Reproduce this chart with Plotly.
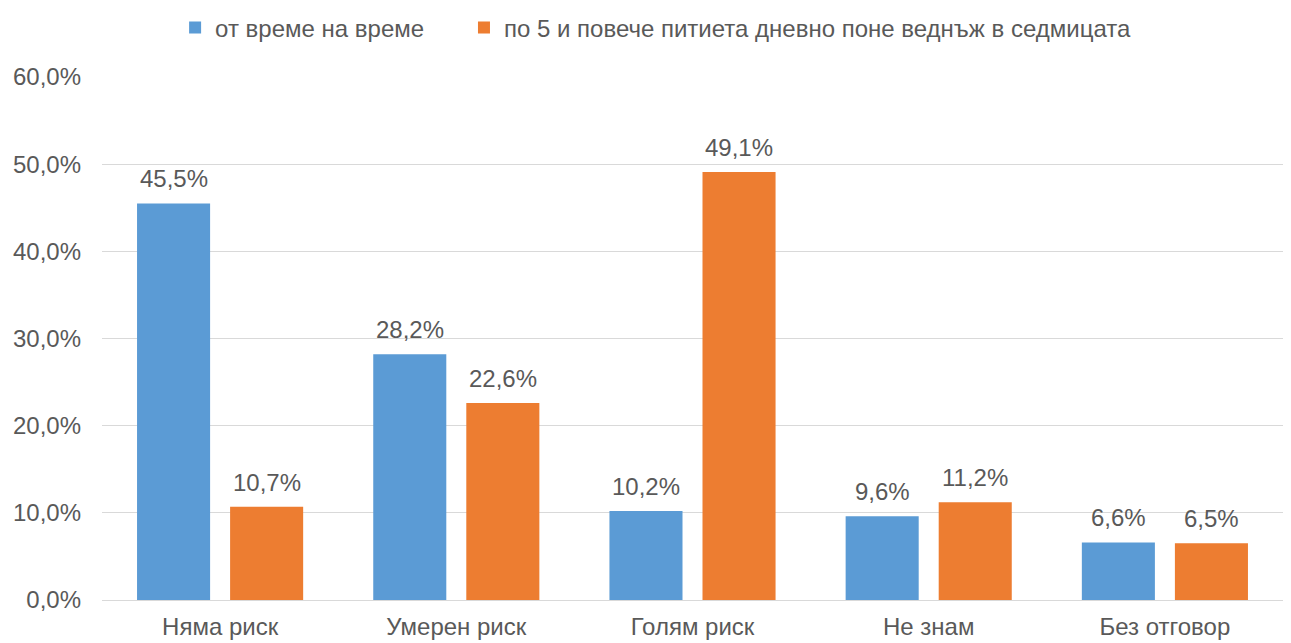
import plotly.graph_objects as go

# Survey answers: perceived risk of drinking, by drinking pattern
categories = ["Няма риск", "Умерен риск", "Голям риск", "Не знам", "Без отговор"]
series_names = ["от време на време", "по 5 и повече питиета дневно поне веднъж в седмицата"]
occasional = [45.5, 28.2, 10.2, 9.6, 6.6]
heavy_weekly = [10.7, 22.6, 49.1, 11.2, 6.5]
y_ticks = [0, 10, 20, 30, 40, 50, 60]

colors = ["#5B9BD5", "#ED7D31"]
text_color = "#595959"
font_family = "Liberation Sans, Arial, sans-serif"
font_size = 24
# horizontal offset (px) of each bar's centre from its category centre
bar_shift = [-46.5, 46.5]


def fmt(v):
    return f"{v:.1f}%".replace(".", ",")


fig = go.Figure()
legend_ids = ["legend", "legend2"]
series_values = [occasional, heavy_weekly]
for name, vals, col, lg in zip(series_names, series_values, colors, legend_ids):
    fig.add_trace(go.Bar(
        x=categories,
        y=vals,
        name=name,
        legend=lg,
        showlegend=True,
        marker=dict(color=col, line=dict(width=0)),
        hovertemplate="%{x}: %{y:.1f}%<extra>" + name + "</extra>",
    ))

# value labels sitting a little above each bar
for vals, dx in zip(series_values, bar_shift):
    for cat, v in zip(categories, vals):
        fig.add_annotation(
            x=cat, y=v, text=fmt(v),
            xref="x", yref="y",
            xanchor="center", yanchor="bottom",
            xshift=dx, yshift=9,
            showarrow=False,
            font=dict(size=font_size, color=text_color, family=font_family),
        )

legend_common = dict(
    orientation="h",
    xanchor="left",
    y=1.094,
    yanchor="middle",
    font=dict(size=font_size, color=text_color, family=font_family),
    itemwidth=30,
    bgcolor="rgba(0,0,0,0)",
    visible=True,
)

fig.update_layout(
    width=1291,
    height=643,
    barmode="group",
    bargap=0.212,
    bargroupgap=0.215,
    plot_bgcolor="white",
    paper_bgcolor="white",
    separators=", ",
    showlegend=True,
    font=dict(family=font_family, size=font_size, color=text_color),
    margin=dict(l=102, r=8, t=77, b=43, autoexpand=False),
    legend=dict(x=0.0619, **legend_common),
    legend2=dict(x=0.3065, **legend_common),
    xaxis=dict(
        showgrid=False,
        showline=False,
        ticks="",
        automargin=False,
        ticklabelstandoff=10,
        tickfont=dict(size=font_size, color=text_color),
    ),
    yaxis=dict(
        range=[0, 60],
        tickvals=y_ticks,
        ticktext=[fmt(v) for v in y_ticks],
        showgrid=True,
        gridcolor="#D9D9D9",
        gridwidth=1,
        zeroline=True,
        zerolinecolor="#D9D9D9",
        zerolinewidth=1,
        showline=False,
        ticks="",
        automargin=False,
        ticklabelstandoff=20,
        tickfont=dict(size=font_size, color=text_color),
    ),
)

fig.write_html("out.html")
